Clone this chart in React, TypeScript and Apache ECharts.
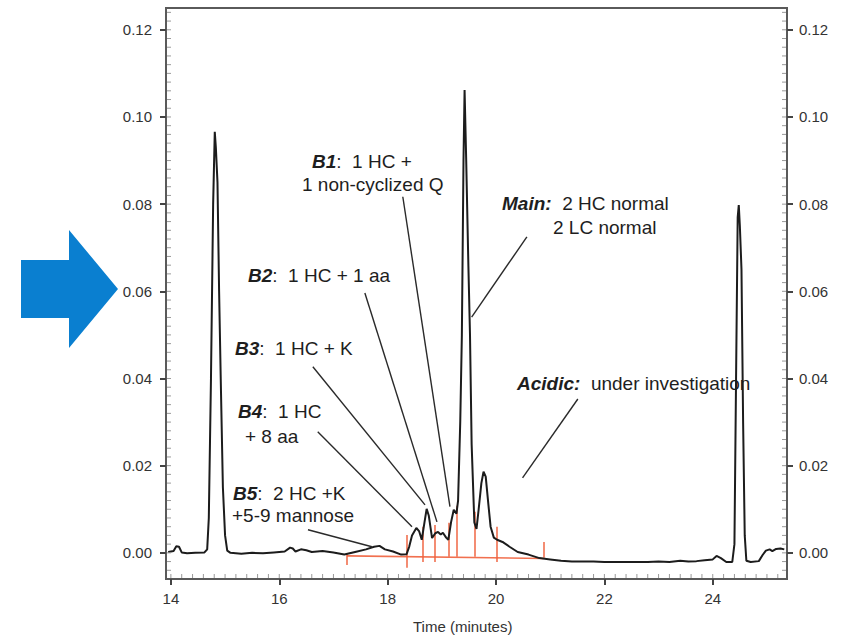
import React, { useEffect, useRef } from "react";
import * as echarts from "echarts";

// Chromatogram: retention time (minutes) and absorbance
const times = [
  13.95, 14.05, 14.1, 14.15, 14.2, 14.3, 14.45, 14.62, 14.67, 14.7, 14.74, 14.78, 14.81, 14.83, 14.86, 14.89,
  14.92, 14.96, 15.0, 15.04, 15.1, 15.3, 15.5, 15.7, 15.9, 16.1, 16.2, 16.25, 16.3, 16.4, 16.5, 16.6, 16.8,
  17.0, 17.2, 17.4, 17.6, 17.75, 17.85, 17.95, 18.1, 18.25, 18.35, 18.4, 18.45, 18.53, 18.58, 18.63, 18.68,
  18.72, 18.76, 18.82, 18.88, 18.93, 18.98, 19.02, 19.08, 19.12, 19.17, 19.22, 19.27, 19.3, 19.34, 19.37,
  19.4, 19.42, 19.45, 19.49, 19.52, 19.55, 19.6, 19.64, 19.68, 19.73, 19.77, 19.81, 19.86, 19.9, 19.96,
  20.02, 20.12, 20.25, 20.4, 20.6, 20.8, 21.0, 21.2, 21.4, 21.6, 21.8, 22.0, 22.2, 22.5, 22.8, 23.0, 23.2,
  23.4, 23.55, 23.7, 23.85, 24.0, 24.07, 24.15, 24.25, 24.36, 24.4, 24.43, 24.46, 24.48, 24.5, 24.53, 24.56,
  24.59, 24.62, 24.7, 24.85, 24.92, 24.98, 25.05, 25.1, 25.17, 25.25, 25.32,
];
const absorbance = [
  0.0002, 0.0004, 0.0015, 0.0014, 0.0001, -0.0001, 0.0, 0.0001, 0.0008, 0.008, 0.04, 0.08, 0.0966, 0.093, 0.085,
  0.06, 0.04, 0.015, 0.004, 0.0005, 0.0, -0.0002, 0.0, -0.0001, 0.0001, 0.0003, 0.0012, 0.001, 0.0003, 0.0008,
  0.0006, 0.0002, 0.0004, 0.0001, -0.0004, 0.0002, 0.0008, 0.0014, 0.0016, 0.0008, 0.0003, -0.0004, -0.0003,
  0.0015, 0.004, 0.0057, 0.005, 0.003, 0.007, 0.0101, 0.0085, 0.0034, 0.0045, 0.0048, 0.0042, 0.0046, 0.0035,
  0.003, 0.007, 0.0099, 0.009, 0.012, 0.03, 0.05, 0.09, 0.1062, 0.09, 0.066, 0.05, 0.025, 0.007, 0.0055, 0.01,
  0.016, 0.0186, 0.0175, 0.011, 0.006, 0.0035, 0.003, 0.0025, 0.0014, 0.0002, -0.0004, -0.0012, -0.0015,
  -0.0018, -0.002, -0.002, -0.002, -0.0021, -0.0021, -0.0021, -0.0021, -0.002, -0.0021, -0.0018, -0.002,
  -0.0019, -0.0017, -0.0015, -0.0007, -0.0012, -0.0021, -0.0021, 0.002, 0.04, 0.077, 0.0798, 0.075, 0.065,
  0.03, 0.004, -0.0018, -0.0021, -0.0019, -0.0005, 0.0005, 0.0008, 0.0004, 0.0009, 0.001, 0.0008,
];

// Integration markers (red): time, low, high
const markerTimes = [17.25, 18.36, 18.64, 18.87, 19.13, 19.28, 19.61, 20.02, 20.88];
const markerLow = [-0.0028, -0.0034, -0.0021, -0.0021, -0.0009, -0.0009, -0.0009, -0.0021, -0.0011];
const markerHigh = [-0.0003, 0.0041, 0.006, 0.0064, 0.0069, 0.0108, 0.0094, 0.006, 0.0025];
const integrationBaseline = [
  [17.25, -0.0007],
  [20.88, -0.0013],
];

// Axis ticks
const xTicks = [14, 16, 18, 20, 22, 24];
const yTicks = [0, 0.02, 0.04, 0.06, 0.08, 0.1, 0.12];

// Annotation leader lines: [fromTime, fromAbs] -> [toTime, toAbs]
const leaderNames = ["B1", "Main", "B2", "B3", "B4", "B5", "Acidic"];
const leaderFrom = [
  [18.28, 0.0817],
  [20.57, 0.0725],
  [17.58, 0.0596],
  [16.62, 0.0427],
  [16.71, 0.0278],
  [16.53, 0.0053],
  [21.51, 0.0353],
];
const leaderTo = [
  [19.15, 0.0106],
  [19.55, 0.0541],
  [18.91, 0.0071],
  [18.69, 0.011],
  [18.45, 0.006],
  [17.71, 0.0014],
  [20.49, 0.0172],
];

const FONT = "'Liberation Sans', Arial, Helvetica, sans-serif";

export default function App() {
  const ref = useRef<HTMLDivElement>(null);

  useEffect(() => {
    if (!ref.current) return;
    const chart = echarts.init(ref.current, undefined, { renderer: "svg" });

    const xMin = 13.91;
    const xMax = 25.37;
    const yMin = -0.006;
    const yMax = 0.125;
    const gridLeft = 166;
    const gridTop = 8;
    const gridRight = 787;
    const gridBottom = 579;

    const xMinor: number[] = [];
    for (let i = 0; i <= 56; i++) xMinor.push(Math.round((14 + i * 0.2) * 100) / 100);
    const yMinor: number[] = [];
    for (let i = -2; i <= 62; i++) yMinor.push(Math.round(i * 0.002 * 10000) / 10000);

    const lineData = times.map((t, i) => [t, absorbance[i]]);

    const redSegments = markerTimes.map((t, i) => ({
      coords: [
        [t, markerLow[i]],
        [t, markerHigh[i]],
      ],
    }));
    redSegments.push({ coords: integrationBaseline });

    const leaders = leaderNames.map((n, i) => ({ name: n, coords: [leaderFrom[i], leaderTo[i]] }));

    const label = (x: number, y: number, text: string) => ({
      type: "text",
      left: x,
      top: y - 11,
      style: {
        text,
        fill: "#1e1e1e",
        fontSize: 19,
        fontFamily: FONT,
        rich: {
          b: { fontStyle: "italic", fontWeight: "bold", fontSize: 19, fontFamily: FONT, color: "#1e1e1e" },
          n: { fontSize: 19, fontFamily: FONT, color: "#1e1e1e" },
        },
      },
    });

    const commonX = { type: "value", min: xMin, max: xMax, splitLine: { show: false } };
    const commonY = { type: "value", min: yMin, max: yMax, splitLine: { show: false } };
    const tickLabel = { color: "#333", fontSize: 15, fontFamily: FONT };
    const frameLine = { show: true, onZero: false, lineStyle: { color: "#5a5a5a", width: 2 } };
    const majorTickStyle = { color: "#444", width: 2 };

    const staticGraphics: any[] = [
      {
        type: "polygon",
        shape: {
          points: [
            [21, 260],
            [69, 260],
            [69, 230],
            [118, 289],
            [69, 348],
            [69, 318],
            [21, 318],
          ],
        },
        style: { fill: "#0a7fd0" },
      },
      label(312, 163, "{b|B1}{n|:  1 HC +}"),
      label(302, 186, "{n|1 non-cyclized Q}"),
      label(502, 205, "{b|Main:}{n|  2 HC normal}"),
      label(553, 229, "{n|2 LC normal}"),
      label(248, 277, "{b|B2}{n|:  1 HC + 1 aa}"),
      label(235, 350, "{b|B3}{n|:  1 HC + K}"),
      label(517, 385, "{b|Acidic:}{n|  under investigation}"),
      label(238, 413, "{b|B4}{n|:  1 HC}"),
      label(245, 438, "{n|+ 8 aa}"),
      label(233, 495, "{b|B5}{n|:  2 HC +K}"),
      label(232, 517, "{n|+5-9 mannose}"),
      {
        type: "text",
        left: 413,
        top: 619,
        style: { text: "Time (minutes)", fill: "#333", fontSize: 15, fontFamily: FONT },
      },
    ];

    chart.setOption({
      animation: false,
      grid: {
        left: gridLeft,
        top: gridTop,
        right: 846 - gridRight,
        bottom: 636 - gridBottom,
        show: true,
        borderColor: "#5a5a5a",
        borderWidth: 2,
      },
      xAxis: [
        {
          ...commonX,
          position: "bottom",
          axisLine: frameLine,
          axisTick: { show: true, inside: false, length: 6, customValues: xTicks, lineStyle: majorTickStyle },
          axisLabel: { ...tickLabel, margin: 12, customValues: xTicks, formatter: (v: number) => String(v) },
        },
      ],
      yAxis: [
        {
          ...commonY,
          position: "left",
          axisLine: frameLine,
          axisTick: { show: true, inside: false, length: 6, customValues: yTicks, lineStyle: majorTickStyle },
          axisLabel: { ...tickLabel, margin: 14, customValues: yTicks, formatter: (v: number) => v.toFixed(2) },
        },
        {
          ...commonY,
          position: "right",
          axisLine: frameLine,
          axisTick: { show: true, inside: false, length: 6, customValues: yTicks, lineStyle: majorTickStyle },
          axisLabel: { ...tickLabel, margin: 12, customValues: yTicks, formatter: (v: number) => v.toFixed(2) },
        },
      ],
      series: [
        {
          type: "lines",
          coordinateSystem: "cartesian2d",
          xAxisIndex: 0,
          yAxisIndex: 0,
          data: redSegments,
          lineStyle: { color: "#f0603c", width: 1.6, opacity: 0.9 },
          z: 1,
        },
        {
          type: "line",
          xAxisIndex: 0,
          yAxisIndex: 0,
          data: lineData,
          showSymbol: false,
          symbol: "none",
          lineStyle: { color: "#1c1c1c", width: 2 },
          z: 3,
        },
        {
          type: "lines",
          coordinateSystem: "cartesian2d",
          xAxisIndex: 0,
          yAxisIndex: 0,
          data: leaders,
          lineStyle: { color: "#2a2a2a", width: 1.4, opacity: 1 },
          z: 4,
        },
      ],
      graphic: staticGraphics,
    });

    // Minor ticks (inside), placed through the axes' own scales
    const minorStyle = { stroke: "#9a9a9a", lineWidth: 1 };
    const minorTicks: any[] = [];
    xMinor.forEach((v) => {
      const px = chart.convertToPixel({ xAxisIndex: 0 }, v) as number;
      minorTicks.push({
        type: "line",
        silent: true,
        shape: { x1: px, y1: gridBottom - 1, x2: px, y2: gridBottom - 5 },
        style: minorStyle,
        z: 10,
      });
    });
    yMinor.forEach((v) => {
      const py = chart.convertToPixel({ yAxisIndex: 0 }, v) as number;
      minorTicks.push({
        type: "line",
        silent: true,
        shape: { x1: gridLeft + 1, y1: py, x2: gridLeft + 5, y2: py },
        style: minorStyle,
        z: 10,
      });
      minorTicks.push({
        type: "line",
        silent: true,
        shape: { x1: gridRight - 1, y1: py, x2: gridRight - 5, y2: py },
        style: minorStyle,
        z: 10,
      });
    });
    chart.setOption({ graphic: [...staticGraphics, ...minorTicks] });

    return () => chart.dispose();
  }, []);

  return (
    <div
      ref={ref}
      style={{ position: "absolute", left: 0, top: 0, width: 846, height: 636, background: "#fff" }}
    />
  );
}
